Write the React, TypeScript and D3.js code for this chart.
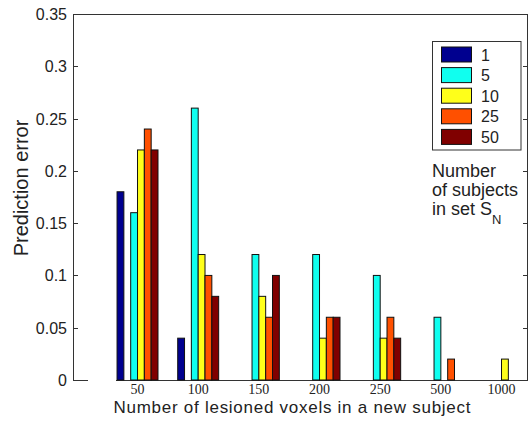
import React from "react";
import * as d3 from "d3";

// Group categories: number of lesioned voxels in a new subject
const categories = ["50", "100", "150", "200", "250", "500", "1000"];

// Series: number of subjects in set S_N
const seriesKeys = ["1", "5", "10", "25", "50"];
const seriesColors = ["#00008F", "#10FFEF", "#FFFF1A", "#FF5000", "#800000"];

// Prediction error per series, one value per category
const errN1 = [0.18, 0.04, 0, 0, 0, 0, 0];
const errN5 = [0.16, 0.26, 0.12, 0.12, 0.1, 0.06, 0];
const errN10 = [0.22, 0.12, 0.08, 0.04, 0.04, 0, 0.02];
const errN25 = [0.24, 0.1, 0.06, 0.06, 0.06, 0.02, 0];
const errN50 = [0.22, 0.08, 0.1, 0.06, 0.04, 0, 0];
const seriesValues = [errN1, errN5, errN10, errN25, errN50];

// Slots inside each group; the second slot stays empty
const slotKeys = ["1", "", "5", "10", "25", "50"];

const yTicks = [0, 0.05, 0.1, 0.15, 0.2, 0.25, 0.3, 0.35];
const yTickLabels = ["0", "0.05", "0.1", "0.15", "0.2", "0.25", "0.3", "0.35"];

const W = 531;
const H = 425;
const plot = { left: 73, right: 528, top: 14, bottom: 380 };
const textColor = "#222";
const axisColor = "#333";
const sans = "'Liberation Sans', Arial, sans-serif";
const serif = "'Liberation Serif', 'Times New Roman', serif";

export default function App() {
  const x = d3
    .scaleBand<string>()
    .domain(categories)
    .range([plot.left, plot.right])
    .paddingInner(0.325)
    .paddingOuter(0.4125)
    .align(0.88);

  const xInner = d3
    .scaleBand<string>()
    .domain(slotKeys)
    .range([0, x.bandwidth()]);

  const y = d3.scaleLinear().domain([0, 0.35]).range([plot.bottom, plot.top]);

  const bars: React.ReactElement[] = [];
  seriesKeys.forEach((key, si) => {
    seriesValues[si].forEach((v, ci) => {
      if (v <= 0) return;
      const bx = (x(categories[ci]) ?? 0) + (xInner(key) ?? 0);
      bars.push(
        <rect
          key={`${key}-${ci}`}
          x={bx}
          y={y(v)}
          width={xInner.bandwidth()}
          height={y(0) - y(v)}
          fill={seriesColors[si]}
          stroke="#111"
          strokeWidth={1}
        />
      );
    });
  });

  const legend = { x: 432.5, y: 41.5, w: 88.5, h: 108.5, rowH: 20.6 };

  return (
    <svg
      width={W}
      height={H}
      style={{ position: "absolute", left: 0, top: 0, background: "#fff" }}
    >
      {/* frame */}
      <line x1={plot.left} x2={plot.right} y1={plot.top + 0.5} y2={plot.top + 0.5} stroke={axisColor} />
      <line x1={plot.left + 0.5} x2={plot.left + 0.5} y1={plot.top} y2={plot.bottom} stroke={axisColor} />
      <line x1={plot.right - 0.5} x2={plot.right - 0.5} y1={plot.top} y2={plot.bottom} stroke={axisColor} />
      <line x1={plot.left} x2={88} y1={plot.bottom + 0.5} y2={plot.bottom + 0.5} stroke={axisColor} />
      <line x1={116} x2={plot.right} y1={plot.bottom + 0.5} y2={plot.bottom + 0.5} stroke={axisColor} />

      {/* y ticks, inward on both sides */}
      {yTicks.map((t, i) => (
        <g key={t}>
          <line x1={plot.left} x2={plot.left + 5} y1={Math.round(y(t)) + 0.5} y2={Math.round(y(t)) + 0.5} stroke={axisColor} />
          <line x1={plot.right - 5} x2={plot.right} y1={Math.round(y(t)) + 0.5} y2={Math.round(y(t)) + 0.5} stroke={axisColor} />
          <text
            x={plot.left - 6}
            y={y(t) + 6}
            textAnchor="end"
            fontFamily={sans}
            fontSize={16}
            fill={textColor}
          >
            {yTickLabels[i]}
          </text>
        </g>
      ))}

      {bars}

      {/* category labels */}
      {categories.map((c) => (
        <text
          key={c}
          x={(x(c) ?? 0) + x.bandwidth() / 2}
          y={394}
          textAnchor="middle"
          fontFamily={serif}
          fontSize={14}
          fill={textColor}
        >
          {c}
        </text>
      ))}

      {/* axis titles */}
      <text
        x={292}
        y={413}
        textAnchor="middle"
        fontFamily={sans}
        fontSize={17}
        textLength={357}
        lengthAdjust="spacing"
        fill={textColor}
      >
        Number of lesioned voxels in a new subject
      </text>
      <text
        transform="translate(28,188) rotate(-90)"
        textAnchor="middle"
        fontFamily={sans}
        fontSize={20}
        fill={textColor}
      >
        Prediction error
      </text>

      {/* legend */}
      <rect
        x={legend.x}
        y={legend.y}
        width={legend.w}
        height={legend.h}
        fill="#fff"
        stroke={axisColor}
      />
      {seriesKeys.map((k, i) => {
        const cy = 54.5 + i * legend.rowH;
        return (
          <g key={k}>
            <rect
              x={441.5}
              y={cy - 7.5}
              width={30}
              height={15}
              fill={seriesColors[i]}
              stroke="#111"
            />
            <text x={481} y={cy + 6} fontFamily={sans} fontSize={16} fill={textColor}>
              {k}
            </text>
          </g>
        );
      })}

      {/* legend caption */}
      <g fontFamily={sans} fontSize={18} fill={textColor}>
        <text x={432} y={177}>Number</text>
        <text x={432} y={196}>of subjects</text>
        <text x={432} y={215}>
          in set
          <tspan x={480}>S</tspan>
          <tspan fontSize={13} dy={9}>N</tspan>
        </text>
      </g>
    </svg>
  );
}
